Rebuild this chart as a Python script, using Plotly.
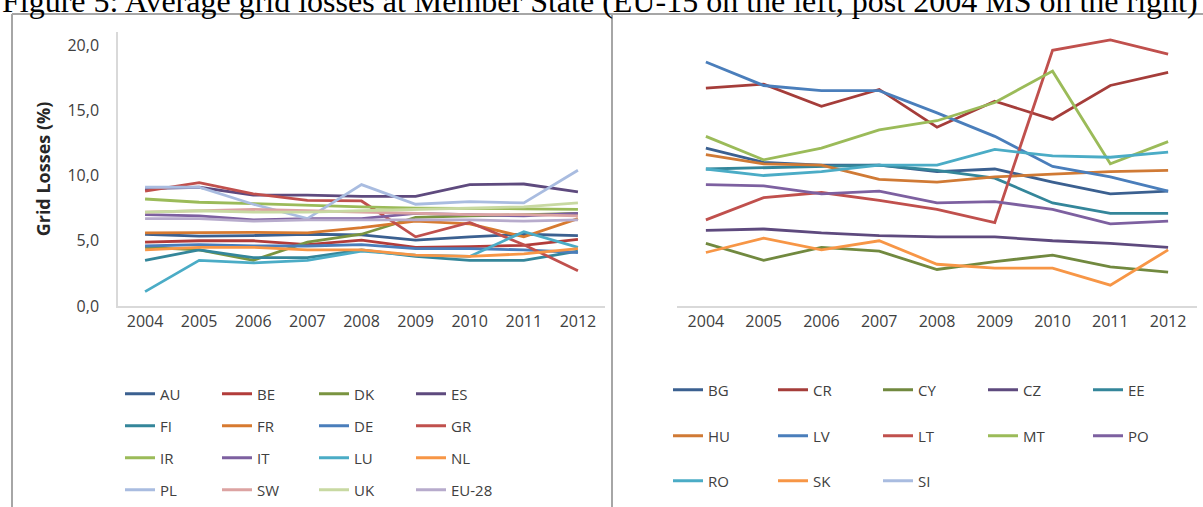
import plotly.graph_objects as go

W, H = 1203, 507

years = ["2004", "2005", "2006", "2007", "2008", "2009", "2010", "2011", "2012"]

# EU-15 member states (left panel), grid losses in %
AU = [5.5, 5.35, 5.4, 5.5, 5.45, 5.05, 5.3, 5.5, 5.4]
BE = [4.9, 5.0, 5.0, 4.7, 5.05, 4.5, 4.55, 4.65, 5.1]
DK = [4.5, 4.3, 3.5, 4.9, 5.5, 6.8, 6.9, 7.0, 7.1]
ES = [9.0, 9.1, 8.5, 8.5, 8.4, 8.4, 9.3, 9.35, 8.75]
FI = [3.5, 4.3, 3.7, 3.7, 4.3, 3.8, 3.5, 3.5, 4.2]
FR = [5.6, 5.65, 5.65, 5.6, 6.0, 6.5, 6.3, 5.3, 6.7]
DE = [4.6, 4.7, 4.6, 4.6, 4.7, 4.4, 4.4, 4.3, 4.1]
GR = [8.8, 9.45, 8.6, 8.1, 8.05, 5.3, 6.4, 4.7, 2.7]
IR = [8.2, 7.95, 7.85, 7.7, 7.6, 7.5, 7.5, 7.45, 7.4]
IT = [7.0, 6.9, 6.6, 6.7, 6.7, 7.1, 7.0, 6.9, 7.1]
LU = [1.1, 3.5, 3.3, 3.5, 4.2, 3.9, 3.8, 5.7, 4.5]
NL = [4.3, 4.5, 4.5, 4.3, 4.3, 3.9, 3.8, 4.0, 4.4]
PL = [9.1, 9.1, 7.8, 6.7, 9.3, 7.8, 8.0, 7.9, 10.4]
SW = [7.2, 7.3, 7.4, 7.3, 7.2, 7.1, 7.0, 7.0, 6.9]
UK = [7.2, 7.3, 7.2, 7.2, 7.3, 7.4, 7.5, 7.6, 7.9]
EU28 = [6.7, 6.7, 6.5, 6.6, 6.6, 6.6, 6.6, 6.5, 6.6]

# Post-2004 member states (right panel)
BG = [12.1, 11.0, 10.8, 10.8, 10.3, 10.5, 9.5, 8.6, 8.8]
CR = [16.7, 17.0, 15.3, 16.6, 13.7, 15.7, 14.3, 16.9, 17.9]
CY = [4.8, 3.5, 4.5, 4.2, 2.8, 3.4, 3.9, 3.0, 2.6]
CZ = [5.8, 5.9, 5.6, 5.4, 5.3, 5.3, 5.0, 4.8, 4.5]
EE = [10.5, 10.6, 10.7, 10.8, 10.4, 9.8, 7.9, 7.1, 7.1]
HU = [11.6, 10.9, 10.8, 9.7, 9.5, 9.9, 10.1, 10.3, 10.4]
LV = [18.7, 16.9, 16.5, 16.5, 14.8, 13.0, 10.7, 9.9, 8.8]
LT = [6.6, 8.3, 8.7, 8.1, 7.4, 6.4, 19.6, 20.4, 19.3]
MT = [13.0, 11.2, 12.1, 13.5, 14.2, 15.6, 18.0, 10.9, 12.6]
PO = [9.3, 9.2, 8.6, 8.8, 7.9, 8.0, 7.4, 6.3, 6.5]
RO = [10.5, 10.0, 10.3, 10.8, 10.8, 12.0, 11.5, 11.4, 11.8]
SK = [4.1, 5.2, 4.3, 5.0, 3.2, 2.9, 2.9, 1.6, 4.3]
SI = [None] * 9

y_ticks = [0, 5, 10, 15, 20]
y_tick_labels = ["0,0", "5,0", "10,0", "15,0", "20,0"]

left_series = [
    ("AU", AU, "#3b6090"), ("BE", BE, "#b23c3a"), ("DK", DK, "#7a9440"), ("ES", ES, "#5e4a7e"),
    ("FI", FI, "#34869a"), ("FR", FR, "#d77a30"), ("DE", DE, "#4a7ebb"), ("GR", GR, "#c0504d"),
    ("IR", IR, "#9bbb59"), ("IT", IT, "#7d60a0"), ("LU", LU, "#4bacc6"), ("NL", NL, "#f79646"),
    ("PL", PL, "#a9bce0"), ("SW", SW, "#dca3a2"), ("UK", UK, "#c8d9a2"), ("EU-28", EU28, "#b7abcc"),
]
right_series = [
    ("BG", BG, "#3b6090"), ("CR", CR, "#a53d3a"), ("CY", CY, "#71893f"), ("CZ", CZ, "#5e4a7e"),
    ("EE", EE, "#34869a"), ("HU", HU, "#d07a35"), ("LV", LV, "#4a7ebb"), ("LT", LT, "#c0504d"),
    ("MT", MT, "#9bbb59"), ("PO", PO, "#7d60a0"), ("RO", RO, "#4bacc6"), ("SK", SK, "#f79646"),
    ("SI", SI, "#a9bce0"),
]

FONT = "Open Sans"
TXT = "#404040"


def px(x):
    return x / W


def py(y):
    return 1 - y / H


fig = go.Figure()

# one legend per row so the rows can be spaced freely
left_rows = 4
for i, (name, vals, col) in enumerate(left_series):
    row = i // 4
    fig.add_trace(go.Scatter(
        x=years, y=vals, name=name, mode="lines",
        line=dict(color=col, width=2.8),
        xaxis="x", yaxis="y",
        legend="legend" if row == 0 else f"legend{row + 1}",
    ))
for i, (name, vals, col) in enumerate(right_series):
    row = i // 5
    fig.add_trace(go.Scatter(
        x=years, y=vals, name=name, mode="lines",
        line=dict(color=col, width=2.8),
        xaxis="x2", yaxis="y2",
        legend=f"legend{left_rows + row + 1}",
    ))

legend_rows_left = [394, 426, 458, 490]
legend_rows_right = [390, 436, 481]
legends = {}
for r, yy in enumerate(legend_rows_left):
    key = "legend" if r == 0 else f"legend{r + 1}"
    legends[key] = dict(
        orientation="h", x=px(120), y=py(yy), xanchor="left", yanchor="middle",
        entrywidth=52, entrywidthmode="pixels", font=dict(family=FONT, size=15, color=TXT),
        bgcolor="rgba(0,0,0,0)", itemclick=False, itemdoubleclick=False, tracegroupgap=0,
    )
for r, yy in enumerate(legend_rows_right):
    key = f"legend{left_rows + r + 1}"
    legends[key] = dict(
        orientation="h", x=px(668), y=py(yy), xanchor="left", yanchor="middle",
        entrywidth=60, entrywidthmode="pixels", font=dict(family=FONT, size=15, color=TXT),
        bgcolor="rgba(0,0,0,0)", itemclick=False, itemdoubleclick=False, tracegroupgap=0,
    )

axis_line = "#d9d9d9"
y_top, y_zero = 32, 306
fig.update_layout(
    width=W, height=H,
    margin=dict(l=0, r=0, t=0, b=0, autoexpand=False),
    paper_bgcolor="white", plot_bgcolor="white",
    showlegend=True,
    font=dict(family=FONT, color=TXT),
    xaxis=dict(domain=[px(118), px(605)], type="category", range=[-0.5, 8.5],
               showline=True, linecolor=axis_line, linewidth=1.5, showgrid=False,
               ticks="", tickangle=0, tickfont=dict(size=16, color=TXT), fixedrange=True),
    yaxis=dict(domain=[py(y_zero), py(y_top)], range=[0, 21], tickvals=y_ticks,
               ticktext=y_tick_labels, showline=True, linecolor=axis_line, linewidth=1.5,
               showgrid=False, zeroline=False, ticks="", ticklabelstandoff=14,
               tickfont=dict(size=16, color=TXT),
               title=dict(text="<b>Grid Losses (%)</b>", font=dict(size=18, color="#262626"),
                          standoff=12), fixedrange=True),
    xaxis2=dict(domain=[px(677), px(1197)], type="category", range=[-0.5, 8.5],
                anchor="y2", showline=True, linecolor=axis_line, linewidth=1.5,
                showgrid=False, ticks="", tickangle=0, tickfont=dict(size=16, color=TXT),
                fixedrange=True),
    yaxis2=dict(domain=[py(y_zero), py(y_top)], range=[0, 21], anchor="x2",
                showline=False, showgrid=False, zeroline=False, showticklabels=False,
                fixedrange=True),
    **legends,
)

# surrounding frame of the two panels
frame = "#a6a6a6"
fig.add_shape(type="line", xref="paper", yref="paper", x0=px(12), x1=px(W), y0=py(14), y1=py(14),
              line=dict(color=frame, width=2))
fig.add_shape(type="line", xref="paper", yref="paper", x0=px(12), x1=px(12), y0=py(14), y1=0,
              line=dict(color=frame, width=2))
fig.add_shape(type="line", xref="paper", yref="paper", x0=px(612), x1=px(612), y0=py(14), y1=0,
              line=dict(color=frame, width=2))

fig.add_annotation(
    text="Figure 5: Average grid losses at Member State (EU-15 on the left, post 2004 MS on the right)",
    xref="paper", yref="paper", x=px(0), y=py(21), xanchor="left", yanchor="bottom",
    showarrow=False, font=dict(family="Liberation Serif", size=32, color="black"),
)

fig.write_html("out.html", config={"displayModeBar": False})
